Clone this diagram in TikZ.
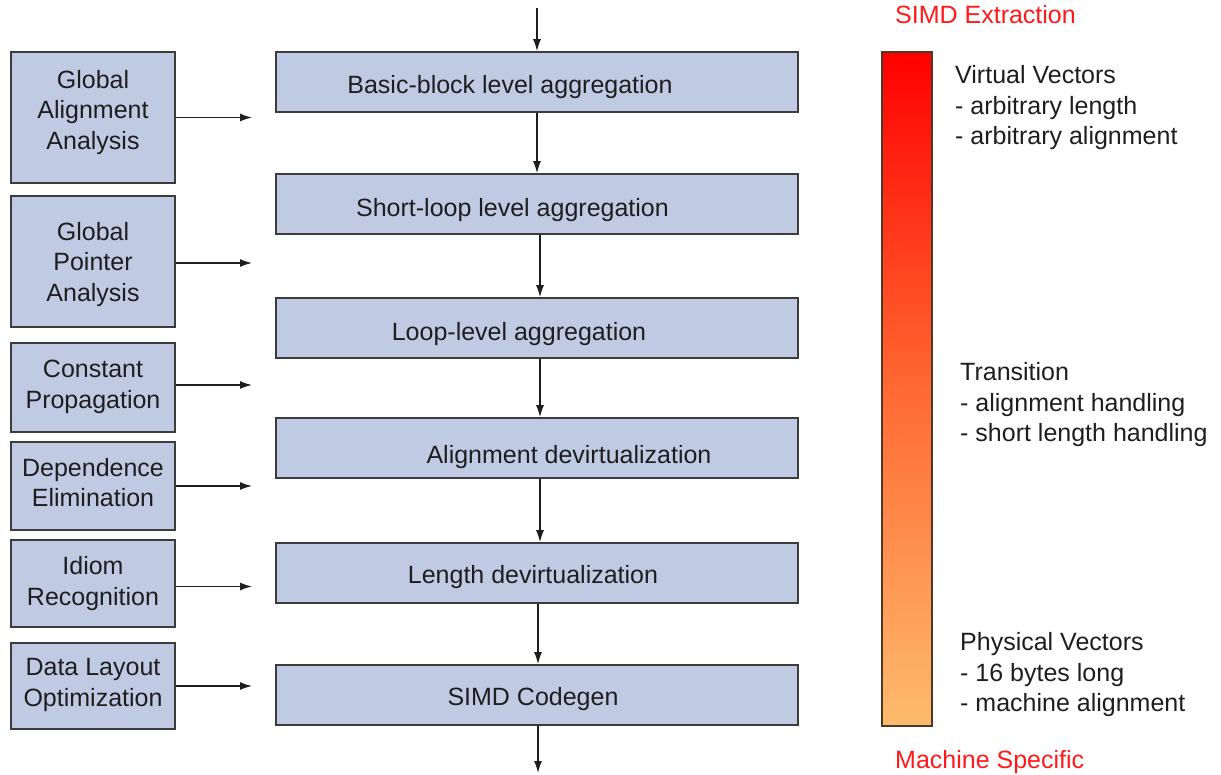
\documentclass[tikz,border=0pt]{standalone}
\usepackage{fontspec}
\setmainfont{Liberation Sans}
\usetikzlibrary{arrows.meta}
\definecolor{boxfill}{RGB}{192,203,227}
\definecolor{boxline}{RGB}{60,60,60}
\definecolor{arrowcol}{RGB}{30,30,30}
\definecolor{redtxt}{RGB}{255,25,25}
\definecolor{textcol}{RGB}{30,30,30}
\definecolor{bartop}{RGB}{255,0,0}
\definecolor{barmid}{RGB}{255,105,50}
\definecolor{barbot}{RGB}{253,187,110}
\definecolor{barline}{RGB}{80,55,40}
\begin{document}
\begin{tikzpicture}[x=1pt,y=-1pt,
  every node/.style={font=\fontsize{25}{30.5}\selectfont, text=textcol, inner sep=0pt},
  mainbox/.style={draw=boxline, fill=boxfill, line width=1.6pt, minimum width=522pt, minimum height=60pt},
  sidebox/.style={draw=boxline, fill=boxfill, line width=1.6pt, minimum width=164pt},
  sidetext/.style={align=center},
  flow/.style={draw=arrowcol, line width=1.4pt, -{Latex[length=12pt,width=8pt]}},
  note/.style={align=left, anchor=west},
  redlbl/.style={text=redtxt, anchor=west}]
\useasboundingbox (0,0) rectangle (1221,775);

% main pipeline boxes
\node[mainbox] (b1) at (537,82) {};
\node[mainbox] (b2) at (537,204) {};
\node[mainbox] (b3) at (537,328) {};
\node[mainbox] (b4) at (537,448) {};
\node[mainbox] (b5) at (537,573) {};
\node[mainbox] (b6) at (537,695) {};
\node (t1) at (510,87) {Basic-block level aggregation};
\node (t2) at (512.5,210) {Short-loop level aggregation};
\node (t3) at (519,334) {Loop-level aggregation};
\node (t4) at (569,457) {Alignment devirtualization};
\node (t5) at (533,577) {Length devirtualization};
\node (t6) at (533,699) {SIMD Codegen};

% side boxes
\node[sidebox, minimum height=131pt] (l1) at (93,117.5) {};
\node[sidebox, minimum height=131pt] (l2) at (93,261.5) {};
\node[sidebox, minimum height=89pt] (l3) at (93,387.5) {};
\node[sidebox, minimum height=88pt] (l4) at (93,486) {};
\node[sidebox, minimum height=87pt] (l5) at (93,583.5) {};
\node[sidebox, minimum height=86pt] (l6) at (93,686) {};
\node[sidetext] (s1) at (93,112.5) {Global\\Alignment\\Analysis};
\node[sidetext] (s2) at (93,264.5) {Global\\Pointer\\Analysis};
\node[sidetext] (s3) at (93,387) {Constant\\Propagation};
\node[sidetext] (s4) at (93,482.5) {Dependence\\Elimination};
\node[sidetext] (s5) at (93,583.5) {Idiom\\Recognition};
\node[sidetext] (s6) at (93,685) {Data Layout\\Optimization};

% vertical flow
\coordinate (in) at (537,8);
\coordinate (out) at (538,773);
\draw[flow] (in) -- (b1.north);
\draw[flow] (b1.south) -- (b2.north);
\draw[flow] ([xshift=3pt]b2.south) -- ([xshift=3pt]b3.north);
\draw[flow] ([xshift=3pt]b3.south) -- ([xshift=3pt]b4.north);
\draw[flow] ([xshift=3pt]b4.south) -- ([xshift=3pt]b5.north);
\draw[flow] ([xshift=1pt]b5.south) -- ([xshift=1pt]b6.north);
\draw[flow] ([xshift=1pt]b6.south) -- (out);

% side arrows
\coordinate (tgt) at (252,0);
\draw[flow] (l1.east) -- (l1.east -| tgt);
\draw[flow] ([yshift=-1.5pt]l2.east) -- ([yshift=-1.5pt]l2.east -| tgt);
\draw[flow] ([yshift=2.5pt]l3.east) -- ([yshift=2.5pt]l3.east -| tgt);
\draw[flow] (l4.east) -- (l4.east -| tgt);
\draw[flow] ([yshift=-3pt]l5.east) -- ([yshift=-3pt]l5.east -| tgt);
\draw[flow] (l6.east) -- (l6.east -| tgt);

% gradient bar
\node[draw=barline, line width=1.5pt, minimum width=50pt, minimum height=674pt,
      top color=bartop, bottom color=barbot, middle color=barmid] (bar) at (907,389) {};

% notes
\node[redlbl] (ext) at (895,15) {SIMD Extraction};
\node[redlbl] (mach) at (895,762) {Machine Specific};
\node[note] (vv) at (955,108) {Virtual Vectors\\- arbitrary length\\- arbitrary alignment};
\node[note] (tr) at (960,405) {Transition\\- alignment handling\\- short length handling};
\node[note] (pv) at (960,675) {Physical Vectors\\- 16 bytes long\\- machine alignment};
\end{tikzpicture}
\end{document}
